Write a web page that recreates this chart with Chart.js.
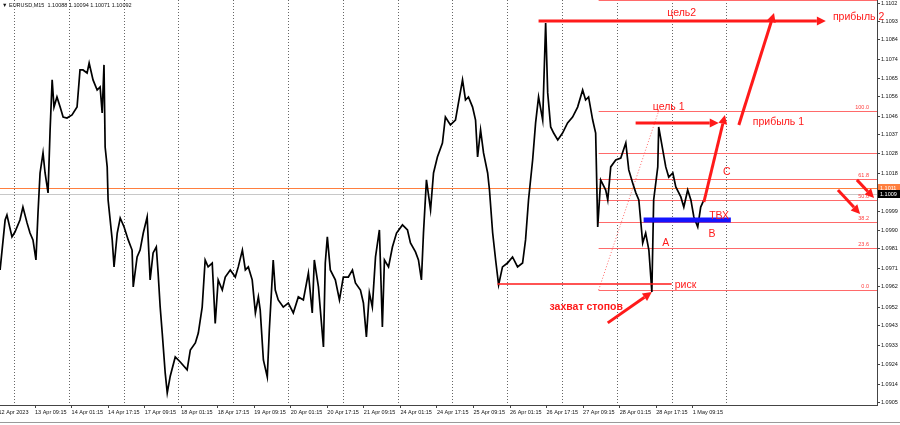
<!DOCTYPE html>
<html>
<head>
<meta charset="utf-8">
<script src="https://cdn.jsdelivr.net/npm/chart.js@4.4.0/dist/chart.umd.min.js"></script>
<style>
  html, body { margin: 0; padding: 0; background: #fff; overflow: hidden; }
</style>
</head>
<body>
<canvas id="c" width="900" height="425"></canvas>
<script>
// EURUSD M15: x = trading hours since 12 Apr 17:15, y = price
const hours = [
  0.7, 2.9, 3.7, 5.9, 7.2, 9.4, 10.7, 12.5, 13.8, 15.1, 16.4, 17.3, 18.2, 19.5, 20.4, 21.7,
  22.6, 23.5, 24.3, 25.6, 27.0, 28.3, 30.0, 32.2, 34.4, 35.7, 37.0, 38.8, 39.7, 41.4, 43.2, 44.5,
  45.4, 46.2, 46.7, 47.6, 48.0, 49.8, 50.6, 52.0, 53.3, 55.0, 56.8, 58.5, 59.0, 60.7, 62.0, 63.4,
  65.1, 66.4, 67.7, 69.1, 69.9, 70.8, 71.7, 73.0, 73.9, 75.2, 77.4, 79.6, 82.6, 84.0, 86.2, 87.5,
  89.2, 90.5, 91.8, 93.6, 94.9, 96.2, 98.0, 99.3, 101.5, 103.7, 105.0, 106.8, 108.1, 109.4, 111.1, 112.5,
  113.8, 114.6, 116.0, 117.7, 118.6, 120.3, 121.2, 122.5, 124.7, 126.9, 129.1, 131.3, 133.5, 135.7, 137.4, 138.3,
  140.1, 142.3, 143.1, 144.0, 145.3, 147.5, 149.3, 151.0, 153.2, 155.0, 156.3, 158.5, 159.8, 161.1, 162.4, 163.7,
  165.1, 166.8, 168.1, 169.0, 170.8, 172.5, 174.3, 176.9, 179.1, 180.4, 182.6, 183.9, 185.2, 186.1, 187.4, 189.2,
  190.5, 192.2, 194.4, 195.7, 197.9, 200.1, 201.4, 203.2, 204.5, 205.8, 207.6, 208.9, 209.8, 211.1, 212.4, 214.2,
  215.0, 216.4, 217.7, 219.0, 220.7, 222.9, 225.1, 227.3, 229.5, 230.8, 232.1, 233.9, 235.2, 236.5, 238.3, 239.6,
  240.5, 241.8, 243.1, 244.9, 247.0, 249.2, 251.4, 253.6, 255.8, 257.1, 258.4, 260.2, 261.5, 262.4, 263.7, 265.9,
  266.8, 268.1, 270.3, 272.5, 274.7, 276.0, 277.7, 279.1, 280.4, 282.1, 283.4, 284.8, 286.1, 286.9, 288.7, 289.1,
  290.9, 292.2, 293.5, 295.3, 296.6, 298.8, 300.1, 301.8, 303.2, 304.5, 306.2, 307.5, 308.9
];
const prices = [
  1.09704, 1.09950, 1.09975, 1.09867, 1.09891, 1.09950, 1.10014, 1.09936, 1.09886, 1.09852, 1.09753, 1.09985, 1.10182, 1.10281, 1.10182, 1.10084,
  1.10394, 1.10641, 1.10507, 1.10557, 1.10507, 1.10458, 1.10453, 1.10468, 1.10507, 1.10690, 1.10690, 1.10675, 1.10724, 1.10641, 1.10591, 1.10606,
  1.10478, 1.10715, 1.10310, 1.10212, 1.10049, 1.09852, 1.09719, 1.09886, 1.09960, 1.09916, 1.09852, 1.09802, 1.09620, 1.09768, 1.09802, 1.09886,
  1.09965, 1.09655, 1.09788, 1.09817, 1.09689, 1.09521, 1.09393, 1.09196, 1.09098, 1.09180, 1.09275, 1.09250, 1.09211, 1.09309, 1.09344, 1.09393,
  1.09521, 1.09753, 1.09719, 1.09738, 1.09440, 1.09655, 1.09605, 1.09669, 1.09704, 1.09669, 1.09719, 1.09802, 1.09704, 1.09719, 1.09655, 1.09492,
  1.09571, 1.09507, 1.09260, 1.09176, 1.09408, 1.09753, 1.09605, 1.09556, 1.09521, 1.09541, 1.09492, 1.09571, 1.09556, 1.09689, 1.09492, 1.09753,
  1.09620, 1.09324, 1.09738, 1.09867, 1.09704, 1.09655, 1.09556, 1.09669, 1.09669, 1.09704, 1.09640, 1.09605, 1.09541, 1.09374, 1.09591, 1.09521,
  1.09768, 1.09901, 1.09423, 1.09753, 1.09719, 1.09817, 1.09886, 1.09926, 1.09901, 1.09837, 1.09793, 1.09753, 1.09655, 1.09886, 1.10148, 1.10000,
  1.10182, 1.10261, 1.10330, 1.10458, 1.10419, 1.10443, 1.10527, 1.10641, 1.10542, 1.10557, 1.10507, 1.10443, 1.10261, 1.10394, 1.10281, 1.10182,
  1.10098, 1.09886, 1.09753, 1.09630, 1.09719, 1.09738, 1.09768, 1.09719, 1.09738, 1.09852, 1.10049, 1.10246, 1.10429, 1.10557, 1.10443, 1.10922,
  1.10577, 1.10409, 1.10379, 1.10345, 1.10379, 1.10429, 1.10458, 1.10507, 1.10591, 1.10542, 1.10557, 1.10443, 1.10379, 1.09916, 1.10148, 1.10098,
  1.10049, 1.10212, 1.10246, 1.10256, 1.10330, 1.10197, 1.10133, 1.10084, 1.10049, 1.09837, 1.09886, 1.09802, 1.09595, 1.10049, 1.10212, 1.10409,
  1.10295, 1.10212, 1.10162, 1.10182, 1.10113, 1.10064, 1.10014, 1.10098, 1.10049, 1.09965, 1.09916, 1.10014, 1.10049
];

const timeLabels = [
  '12 Apr 2023', '13 Apr 09:15', '14 Apr 01:15', '14 Apr 17:15', '17 Apr 09:15', '18 Apr 01:15',
  '18 Apr 17:15', '19 Apr 09:15', '20 Apr 01:15', '20 Apr 17:15', '21 Apr 09:15', '24 Apr 01:15',
  '24 Apr 17:15', '25 Apr 09:15', '26 Apr 01:15', '26 Apr 17:15', '27 Apr 09:15', '28 Apr 01:15',
  '28 Apr 17:15', '1 May 09:15'
];
const priceTicks = [
  1.1102, 1.1093, 1.1084, 1.1074, 1.1065, 1.1056, 1.1046, 1.1037, 1.1028, 1.1018, 1.1009,
  1.0999, 1.0990, 1.0981, 1.0971, 1.0962, 1.0952, 1.0943, 1.0933, 1.0924, 1.0914, 1.0905
];

// fibo grid: from the low to the high, drawn from fibStart to the right edge
const fibLow = 1.09605, fibHigh = 1.10488, fibStart = 262.8, fibTop = 289.1;
const fibLevels = [0, 23.6, 38.2, 50.0, 61.8, 76.4, 100.0, 161.8];
const fibShown = ['0.0', '23.6', '38.2', '50.0', '61.8', '', '100.0', '161.8'];

const orangeLine = 1.10108, bidLine = 1.10080;
const title = 'EURUSD,M15  1.10088 1.10094 1.10071 1.10092';

// drawings on the chart, in hours / price
const arrows = [
  { from: [236.5, 1.10931], to: [362.3, 1.10931] },
  { from: [324.2, 1.10419], to: [339.6, 1.10971] },
  { from: [279.0, 1.10429], to: [315.4, 1.10429] },
  { from: [308.9, 1.10039], to: [318.1, 1.10468] },
  { from: [367.6, 1.10098], to: [377.3, 1.09980] },
  { from: [375.9, 1.10148], to: [383.4, 1.10059] },
  { from: [266.8, 1.09443], to: [286.1, 1.09595] }
];
const riskLine = { from: 218.5, to: 294.8, price: 1.09635 };
const entryBar = { from: 282.5, to: 320.7, price: 1.09950 };
const notes = [
  { text: 'цель2', h: 299.2, p: 1.10971, align: 'center' },
  { text: 'прибыль 2', h: 365.4, p: 1.10951, align: 'left' },
  { text: 'цель 1', h: 286.5, p: 1.10507, align: 'left' },
  { text: 'прибыль 1', h: 330.3, p: 1.10434, align: 'left' },
  { text: 'C', h: 318.9, p: 1.10187, align: 'center' },
  { text: 'ТВХ', h: 311.2, p: 1.09967, align: 'left' },
  { text: 'B', h: 312.4, p: 1.09881, align: 'center' },
  { text: 'A', h: 292.2, p: 1.09837, align: 'center' },
  { text: 'риск', h: 296.1, p: 1.09630, align: 'left' },
  { text: 'захват стопов', h: 241.3, p: 1.09521, align: 'left', bold: true }
];

const dayBreaks = [];
for (let d = 0; d < 14; d++) dayBreaks.push(6.75 + d * 24);

const RED = '#ff1a1a';
const FONT = 'Liberation Sans, Arial, sans-serif';

function arrow(ctx, x1, y1, x2, y2) {
  const ang = Math.atan2(y2 - y1, x2 - x1);
  const len = 9, half = 4.5;
  const bx = x2 - Math.cos(ang) * len, by = y2 - Math.sin(ang) * len;
  ctx.beginPath(); ctx.moveTo(x1, y1); ctx.lineTo(bx, by); ctx.stroke();
  ctx.beginPath();
  ctx.moveTo(x2, y2);
  ctx.lineTo(bx + Math.sin(ang) * half, by - Math.cos(ang) * half);
  ctx.lineTo(bx - Math.sin(ang) * half, by + Math.cos(ang) * half);
  ctx.closePath(); ctx.fill();
}

const overlay = {
  id: 'overlay',
  beforeDatasetsDraw(chart) {
    const { ctx, chartArea: a, scales: { x, y } } = chart;
    ctx.save();
    ctx.beginPath(); ctx.rect(a.left, a.top, a.right - a.left, a.bottom - a.top); ctx.clip();

    // day separators
    ctx.strokeStyle = '#666'; ctx.lineWidth = 1; ctx.setLineDash([1, 2]);
    dayBreaks.forEach(h => {
      const px = Math.round(x.getPixelForValue(h)) + 0.5;
      ctx.beginPath(); ctx.moveTo(px, a.top); ctx.lineTo(px, a.bottom); ctx.stroke();
    });
    ctx.setLineDash([]);

    // bid + orange level
    let py = Math.round(y.getPixelForValue(bidLine)) + 0.5;
    ctx.strokeStyle = '#c8c8c8';
    ctx.beginPath(); ctx.moveTo(a.left, py); ctx.lineTo(a.right, py); ctx.stroke();
    py = Math.round(y.getPixelForValue(orangeLine)) + 0.5;
    ctx.strokeStyle = '#ff7f3f';
    ctx.beginPath(); ctx.moveTo(a.left, py); ctx.lineTo(a.right, py); ctx.stroke();

    // fibo levels
    const fx = x.getPixelForValue(fibStart);
    ctx.strokeStyle = '#ff6a6a'; ctx.fillStyle = '#ff4040';
    ctx.font = '5.5px ' + FONT; ctx.textAlign = 'right'; ctx.textBaseline = 'bottom';
    fibLevels.forEach((lv, i) => {
      const v = fibLow + (fibHigh - fibLow) * lv / 100;
      const yy = Math.round(y.getPixelForValue(v)) + 0.5;
      ctx.beginPath(); ctx.moveTo(fx, yy); ctx.lineTo(a.right, yy); ctx.stroke();
      if (fibShown[i]) ctx.fillText(fibShown[i], a.right - 8, yy - 1);
    });
    ctx.setLineDash([1, 2]);
    ctx.beginPath();
    ctx.moveTo(fx, y.getPixelForValue(fibLow));
    ctx.lineTo(x.getPixelForValue(fibTop), y.getPixelForValue(fibHigh));
    ctx.stroke();
    ctx.setLineDash([]);
    ctx.restore();
  },
  afterDatasetsDraw(chart) {
    const { ctx, chartArea: a, scales: { x, y } } = chart;
    ctx.save();

    // risk line
    ctx.strokeStyle = RED; ctx.lineWidth = 1.5;
    let yy = y.getPixelForValue(riskLine.price);
    ctx.beginPath(); ctx.moveTo(x.getPixelForValue(riskLine.from), yy); ctx.lineTo(x.getPixelForValue(riskLine.to), yy); ctx.stroke();

    // entry bar
    ctx.strokeStyle = '#1414ff'; ctx.lineWidth = 5;
    yy = y.getPixelForValue(entryBar.price);
    ctx.beginPath(); ctx.moveTo(x.getPixelForValue(entryBar.from), yy); ctx.lineTo(x.getPixelForValue(entryBar.to), yy); ctx.stroke();

    // arrows
    ctx.strokeStyle = RED; ctx.fillStyle = RED; ctx.lineWidth = 3;
    arrows.forEach(ar => arrow(ctx,
      x.getPixelForValue(ar.from[0]), y.getPixelForValue(ar.from[1]),
      x.getPixelForValue(ar.to[0]), y.getPixelForValue(ar.to[1])));

    // notes
    ctx.textBaseline = 'middle';
    notes.forEach(n => {
      ctx.font = (n.bold ? 'bold ' : '') + '10.5px ' + FONT;
      ctx.fillStyle = RED;
      ctx.textAlign = n.align;
      ctx.fillText(n.text, x.getPixelForValue(n.h), y.getPixelForValue(n.p));
    });

    // title
    ctx.fillStyle = '#111'; ctx.font = '5.5px ' + FONT; ctx.textAlign = 'left';
    ctx.fillText('▼ ' + title, 2, 5);

    // price boxes on the axis
    [[orangeLine, '#ff7f3f', '1.1011', '#fff'], [bidLine, '#000', '1.1009', '#fff']].forEach(([v, bg, t, fg]) => {
      const cy = Math.round(y.getPixelForValue(v));
      ctx.fillStyle = bg; ctx.fillRect(a.right + 1, cy - 4, 22, 8);
      ctx.fillStyle = fg; ctx.font = '5.5px ' + FONT;
      ctx.fillText(t, a.right + 3, cy + 0.5);
    });

    // tab strip line at the bottom
    ctx.strokeStyle = '#9a9a9a'; ctx.lineWidth = 1;
    ctx.beginPath(); ctx.moveTo(0, 422.5); ctx.lineTo(900, 422.5); ctx.stroke();
    ctx.restore();
  }
};

new Chart(document.getElementById('c'), {
  type: 'line',
  data: {
    datasets: [{
      data: hours.map((h, i) => ({ x: h, y: prices[i] })),
      borderColor: '#000',
      borderWidth: 1.7,
      pointRadius: 0,
      tension: 0,
      fill: false
    }]
  },
  options: {
    responsive: false,
    animation: false,
    devicePixelRatio: 1,
    layout: { padding: 0 },
    plugins: { legend: { display: false }, tooltip: { enabled: false } },
    scales: {
      x: {
        type: 'linear', min: 0.66, max: 384.7,
        afterBuildTicks: s => { s.ticks = timeLabels.map((_, i) => ({ value: i * 16 })); },
        afterFit: s => { s.height = 20; s.paddingLeft = 0; s.paddingRight = 0; },
        ticks: {
          autoSkip: false, maxRotation: 0, minRotation: 0, align: 'start', padding: 1,
          color: '#111', font: { size: 5.5, family: FONT },
          callback: (v, i) => timeLabels[i]
        },
        grid: { drawOnChartArea: false, tickLength: 3, color: '#444' },
        border: { color: '#444' }
      },
      y: {
        type: 'linear', position: 'right', min: 1.09038, max: 1.11035,
        afterBuildTicks: s => { s.ticks = priceTicks.map(v => ({ value: v })); },
        afterFit: s => { s.width = 23; s.paddingTop = 0; s.paddingBottom = 0; },
        ticks: {
          padding: 1, color: '#111', font: { size: 5.5, family: FONT },
          callback: v => v.toFixed(4)
        },
        grid: { drawOnChartArea: false, tickLength: 3, color: '#444' },
        border: { color: '#444' }
      }
    }
  },
  plugins: [overlay]
});
</script>
</body>
</html>
